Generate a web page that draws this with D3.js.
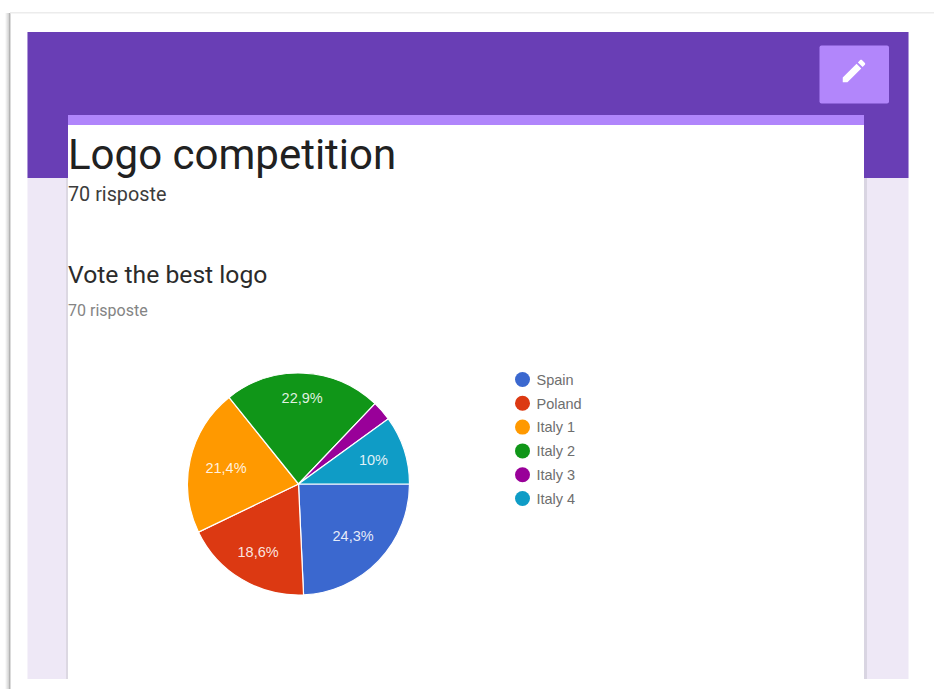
<!DOCTYPE html>
<html>
<head>
<meta charset="utf-8">
<script src="https://cdn.jsdelivr.net/npm/d3@7"></script>
<style>
  html, body { margin: 0; padding: 0; background: #fff; }
  svg { display: block; }
  text { font-family: Roboto, sans-serif; }
  .chart-text { font-family: "Liberation Sans", Arial, sans-serif; }
</style>
</head>
<body>
<svg id="page" width="934" height="689"></svg>
<script>
// Responses to "Vote the best logo", in percent
const categories = ["Spain", "Poland", "Italy 1", "Italy 2", "Italy 3", "Italy 4"];
const shares = [24.3, 18.6, 21.4, 22.9, 2.9, 10];
const sliceColors = ["#3b68cf", "#dc3912", "#ff9900", "#109618", "#990099", "#0f9cc6"];

const formTitle = "Logo competition";
const responseCount = "70 risposte";
const questionTitle = "Vote the best logo";

const svg = d3.select("#page");

const defs = svg.append("defs");
const shadow = defs.append("linearGradient").attr("id", "frame-shadow");
shadow.append("stop").attr("offset", "0").attr("stop-color", "#fff");
shadow.append("stop").attr("offset", "0.6").attr("stop-color", "#d4d4d4");
shadow.append("stop").attr("offset", "0.8").attr("stop-color", "#a9a9a9");
shadow.append("stop").attr("offset", "1").attr("stop-color", "#fff");

// Window edge on the left and top
svg.append("rect").attr("x", 5).attr("y", 13).attr("width", 6).attr("height", 676)
  .attr("fill", "url(#frame-shadow)");
svg.append("rect").attr("x", 10).attr("y", 12).attr("width", 924).attr("height", 1.5)
  .attr("fill", "#ececec");

// Form page background, header band and white card
svg.append("rect").attr("x", 27.5).attr("y", 32).attr("width", 881).attr("height", 647)
  .attr("fill", "#eee8f6");
svg.append("rect").attr("x", 27.5).attr("y", 32).attr("width", 881).attr("height", 146)
  .attr("fill", "#693eb5");
svg.append("rect").attr("x", 66).attr("y", 178).attr("width", 2).attr("height", 501)
  .attr("fill", "#dcd8e2");
svg.append("rect").attr("x", 864).attr("y", 178).attr("width", 3).attr("height", 501)
  .attr("fill", "#d9d5e2");
svg.append("rect").attr("x", 68).attr("y", 115).attr("width", 796).attr("height", 564)
  .attr("fill", "#fff");
svg.append("rect").attr("x", 68).attr("y", 115).attr("width", 796).attr("height", 10)
  .attr("fill", "#b085fb");

// Edit button
svg.append("rect").attr("x", 819.5).attr("y", 45.5).attr("width", 69.5).attr("height", 58)
  .attr("rx", 2).attr("fill", "#b286fb");
svg.append("path")
  .attr("transform", "translate(839,56) scale(1.25)")
  .attr("fill", "#fff")
  .attr("d", "M3 17.25V21h3.75L17.81 9.94l-3.75-3.75L3 17.25zM20.71 7.04c.39-.39.39-1.02 0-1.41l-2.34-2.34c-.39-.39-1.02-.39-1.41 0l-1.83 1.83 3.75 3.75 1.83-1.83z");

// Headings
svg.append("text").attr("x", 68).attr("y", 169).attr("font-size", 42).attr("fill", "#212121")
  .text(formTitle);
svg.append("text").attr("x", 68).attr("y", 201).attr("font-size", 19.8).attr("fill", "#3c3c3c")
  .text(responseCount);
svg.append("text").attr("x", 68).attr("y", 283).attr("font-size", 24.7).attr("fill", "#2b2b2b")
  .text(questionTitle);
svg.append("text").attr("x", 68).attr("y", 316).attr("font-size", 16).attr("fill", "#848484")
  .text(responseCount);

// Pie, clockwise from three o'clock
const center = [298.5, 484];
const radius = 111;
const color = d3.scaleOrdinal().domain(categories).range(sliceColors);
const pie = d3.pie()
  .sort(null)
  .startAngle(Math.PI / 2)
  .endAngle(Math.PI * 2.5)
  .value((d, i) => shares[i]);
const arc = d3.arc().innerRadius(0).outerRadius(radius);
const arcs = pie(categories);

// Distance of each percent label from the centre, as a fraction of the radius
const labelDistance = [0.68, 0.71, 0.67, 0.78, 0, 0.71];
const labelPoint = d => {
  const r = radius * labelDistance[d.index];
  return d3.arc().innerRadius(r).outerRadius(r).centroid(d);
};

const pieGroup = svg.append("g").attr("transform", `translate(${center})`);
pieGroup.selectAll("path")
  .data(arcs)
  .join("path")
  .attr("d", arc)
  .attr("fill", d => color(d.data))
  .attr("stroke", "#fff")
  .attr("stroke-width", 1.2);

// Percent labels, skipped on slices too narrow to hold them
const minLabelShare = 5;
pieGroup.selectAll("text")
  .data(arcs.filter(d => d.value >= minLabelShare))
  .join("text")
  .attr("class", "chart-text")
  .attr("transform", d => `translate(${labelPoint(d)})`)
  .attr("text-anchor", "middle")
  .attr("dy", "0.36em")
  .attr("font-size", 14.5)
  .attr("fill", "#fff")
  .attr("fill-opacity", 0.88)
  .text(d => String(d.value).replace(".", ",") + "%");

// Legend
const legendY = d3.scalePoint().domain(categories).range([379.5, 498.5]);
const legend = svg.append("g").selectAll("g")
  .data(categories)
  .join("g")
  .attr("transform", d => `translate(522.5,${legendY(d)})`);
legend.append("circle").attr("r", 7.5).attr("fill", d => color(d));
legend.append("text")
  .attr("class", "chart-text")
  .attr("x", 14)
  .attr("dy", "0.36em")
  .attr("font-size", 14.5)
  .attr("fill", "#6e6e6e")
  .text(d => d);
</script>
</body>
</html>
